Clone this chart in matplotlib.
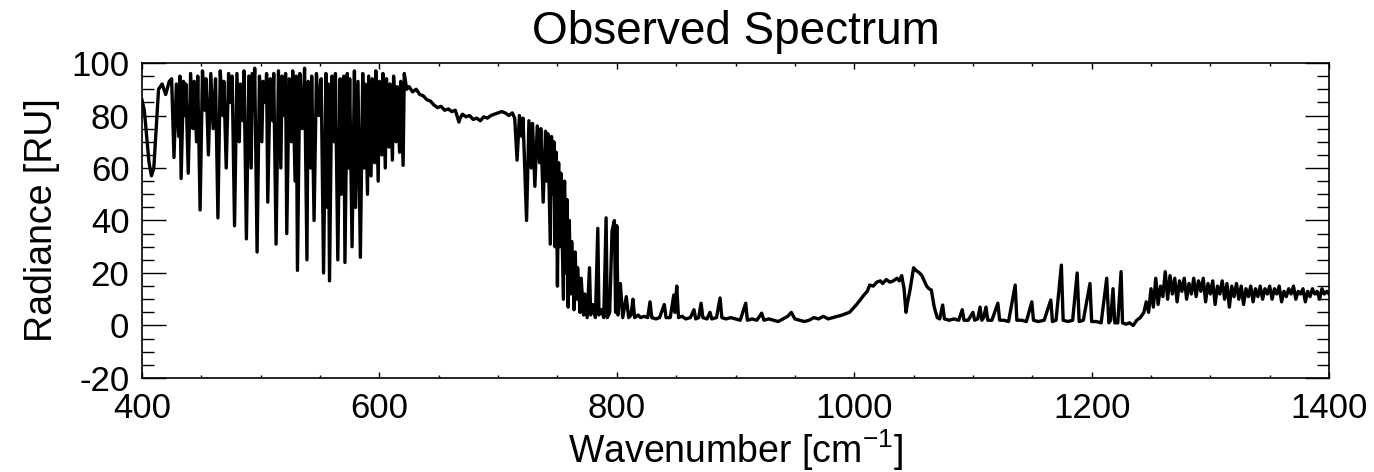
import numpy as np
import matplotlib.pyplot as plt
from matplotlib.ticker import MultipleLocator

# far wing start (400-423 cm-1)
wn_start = [400, 402, 404, 406, 408, 410, 412, 414, 417, 420, 423]
rad_start = [86, 82, 72, 62, 57, 60, 75, 90, 92, 88, 93]

# water vapour rotation lines (tops and bottoms)
wn_h2o = [425, 427, 429, 431, 432, 433, 435, 436, 437, 439, 441, 443, 444, 446, 447, 449,
          451, 453, 454, 456, 458, 460, 462, 464, 466, 468, 469, 471, 473, 474, 476, 478,
          480, 482, 483, 485, 486, 488, 490, 492, 493, 494, 495, 497, 499, 501, 502, 504,
          505, 506, 508, 510, 511, 513, 515, 517, 518, 520, 521, 522, 524, 526, 527, 529,
          530, 531, 533, 535, 537, 539, 540, 542, 543, 545, 547, 549, 551, 553, 555, 556,
          557, 558, 560, 562, 563, 565, 567, 568, 570, 571, 573, 574, 575, 577, 579, 580,
          582, 584, 586, 587, 588, 590, 591, 593, 594, 596, 597, 599, 600, 602, 603, 605,
          606, 608, 609, 611, 612, 614, 615, 617, 618, 620, 621, 623]
rad_h2o = [94, 64, 92, 72, 95, 56, 93, 80, 92, 58, 96, 75, 93, 70, 95, 44,
           97, 82, 94, 65, 96, 75, 94, 41, 97, 80, 93, 60, 96, 85, 95, 38,
           96, 70, 92, 78, 97, 33, 95, 60, 96, 85, 98, 28, 95, 70, 93, 85,
           96, 47, 94, 78, 96, 31, 97, 60, 95, 80, 96, 35, 94, 70, 97, 55,
           95, 21, 96, 75, 98, 25, 93, 60, 95, 40, 96, 80, 94, 20, 96, 45,
           92, 17, 95, 70, 96, 25, 94, 50, 95, 24, 96, 60, 94, 30, 97, 45,
           93, 26, 96, 60, 92, 50, 95, 57, 94, 62, 97, 55, 93, 65, 96, 60,
           94, 68, 92, 63, 95, 70, 91, 66, 93, 61, 96, 90]

# smooth part before the CO2 band edge
wn_mid = [625, 628, 631, 634, 637, 640, 643, 646, 649, 652, 655, 658, 661, 664, 666, 667,
          668, 670, 673, 676, 679, 682, 685, 688, 691, 694, 697, 700, 703, 706, 709, 712, 714]
rad_mid = [91, 89, 90, 88, 87.5, 86, 85.5, 84, 83, 83.5, 82, 82.5, 81.5, 82, 79, 77.5,
           79, 80.5, 79.5, 80, 78.5, 79, 78, 79.5, 79, 80, 80.5, 81, 81.5, 81, 80, 81, 79]

# CO2 band edge
wn_co2 = [716, 718, 720, 721, 724, 726, 728, 729, 731, 733, 735, 736, 738, 740, 741, 742,
          744, 745, 746, 747, 748, 749, 750, 751, 752, 753, 755, 756, 757, 758, 759, 760,
          761, 762, 764, 765, 766, 767, 769, 770, 772, 773, 775, 777, 778, 780, 782, 784,
          785, 787, 789, 791, 792, 794, 796, 798, 799, 800, 801, 803, 805, 808]
rad_co2 = [63, 80, 72, 79, 40, 78, 60, 77, 53, 76, 62, 75, 47, 74, 55, 73,
           31, 72, 50, 70, 30, 66, 15, 62, 30, 58, 10, 55, 20, 48, 7, 40,
           12, 32, 6, 28, 10, 22, 5, 18, 4, 12, 3, 22, 4, 8, 3, 37,
           4, 6, 3, 41, 3, 5, 36, 40, 5, 38, 4, 16, 3, 11]

# atmospheric window
wn_win = [810, 812, 813.6, 815, 818, 820, 823, 826, 828, 829.5, 833, 836, 840, 841.5, 845,
          848, 849, 850.5, 852, 855, 858, 862, 865, 866.5, 869, 871, 872.5, 876, 878.5, 880,
          884, 887, 888.5, 892, 896, 900, 904, 908.6, 910, 914, 918, 922, 924, 928, 932, 936,
          940, 944, 947, 950, 954, 958, 962, 966, 970, 974, 978, 982, 986, 990, 994]
rad_win = [3, 4, 10, 3, 4, 3, 3.5, 3, 9, 3, 2.5, 3, 8, 3, 3,
           11.6, 5, 15, 3, 3.5, 2.5, 3, 6, 2.5, 3, 8.5, 3, 2.5, 5, 2.5,
           3, 10.5, 3, 2.5, 3, 2.5, 2, 8.5, 2, 2.5, 2, 4.7, 2, 2.5, 2, 1.5,
           2.5, 3.5, 5, 2.5, 2, 1.5, 2, 3, 2.5, 3.5, 2.5, 3, 3.5, 4, 4.7]

# ozone band
wn_o3 = [996, 999, 1002, 1005, 1008, 1011, 1013, 1016, 1019, 1022, 1024, 1027, 1030, 1033,
         1036, 1038, 1040, 1042, 1043.6, 1045, 1047, 1049, 1050, 1052, 1055, 1057, 1059, 1061,
         1063, 1065, 1067, 1068, 1070, 1072, 1074.5, 1076]
rad_o3 = [5, 6.5, 8, 9.7, 11.5, 13, 15.4, 15, 16.5, 17, 16, 17.5, 16.5, 17,
          18, 17, 19, 14, 5, 9, 13.5, 19, 22, 21, 20, 19, 17, 15,
          14, 13.5, 8, 6, 3, 2.5, 7.8, 2.5]

# second window with water lines
wn_win2 = [1080, 1084, 1088, 1091, 1092.5, 1096, 1100, 1101.5, 1104, 1106, 1107.5, 1109, 1111,
           1112.5, 1116, 1121, 1122.5, 1126, 1130, 1135.6, 1137, 1141, 1145, 1149.6, 1151, 1155,
           1160, 1165.6, 1167, 1170, 1174.5, 1176, 1180, 1184, 1187.8, 1189.5, 1193, 1198.6,
           1200, 1204, 1208, 1212.7, 1214.5, 1216, 1218, 1219.5, 1222, 1224.8, 1226, 1229, 1232,
           1235, 1238, 1241, 1244]
rad_win2 = [2, 2.5, 2, 6, 2, 2, 5, 2, 2.5, 7, 2, 3, 7,
            2, 2, 8.5, 2, 2, 1.5, 15.4, 2, 2, 1.5, 9, 2, 1.5,
            2, 9.7, 1.5, 2, 23, 2, 1.5, 2, 20, 1.5, 2, 16,
            1.5, 1.5, 1, 18, 1, 2, 14, 1, 1, 20.5, 1, 0.5, 1,
            0, 2, 3, 5]

# water vapour vibration band start
wn_v2 = [1246, 1248, 1250, 1252, 1254, 1256, 1258, 1260, 1262, 1264, 1266, 1268, 1270, 1272,
         1274, 1276, 1278, 1280, 1282, 1284, 1286, 1288, 1290, 1292, 1294, 1296, 1298, 1300,
         1302, 1304, 1306, 1308, 1310, 1312, 1314, 1316, 1318, 1320, 1322, 1324, 1326, 1328,
         1330, 1332, 1334, 1336, 1338, 1340, 1342, 1344, 1346, 1348, 1350, 1352, 1354, 1356,
         1358, 1360, 1362, 1364, 1366, 1368, 1370, 1372, 1374, 1376, 1378, 1380, 1382, 1384,
         1386, 1388, 1390, 1392, 1394, 1396, 1398, 1400]
rad_v2 = [9, 5, 14, 7, 18, 8, 15, 11, 20.5, 10, 19, 12, 18, 9,
          17, 13, 18, 10, 16, 12, 18, 11, 17, 13, 18, 9, 16, 12,
          17, 8, 15, 12, 17, 10, 16, 7, 15, 11, 16, 10, 15, 8,
          14, 11, 15, 9, 14, 11, 15, 10, 14, 12, 15, 10, 14, 12,
          15, 9, 13, 11, 14, 12, 15, 10, 13, 12, 14, 9, 13, 11,
          14, 12, 13, 10, 14, 12, 13, 12]

wn = np.concatenate([wn_start, wn_h2o, wn_mid, wn_co2, wn_win, wn_o3, wn_win2, wn_v2])
rad = np.concatenate([rad_start, rad_h2o, rad_mid, rad_co2, rad_win, rad_o3, rad_win2, rad_v2])

plt.rcParams['font.family'] = ['Liberation Sans', 'DejaVu Sans']
plt.rcParams['mathtext.default'] = 'regular'
plt.rcParams['axes.unicode_minus'] = False

fig = plt.figure(figsize=(13.74, 4.72), dpi=100)
ax = fig.add_axes([0.1033, 0.1992, 0.864, 0.6673])

ax.plot(wn, rad, color='black', linewidth=2.4)

ax.set_xlim(400, 1400)
ax.set_ylim(-20, 100)
ax.xaxis.set_major_locator(MultipleLocator(200))
ax.xaxis.set_minor_locator(MultipleLocator(50))
ax.yaxis.set_major_locator(MultipleLocator(20))
ax.yaxis.set_minor_locator(MultipleLocator(5))

ax.tick_params(axis='x', which='major', direction='in', length=4.5, width=1,
               top=True, labelsize=25, pad=10)
ax.tick_params(axis='x', which='minor', direction='in', length=2.2, width=1, top=True)
ax.tick_params(axis='y', which='major', direction='in', length=17, width=1,
               right=True, labelsize=25, pad=9)
ax.tick_params(axis='y', which='minor', direction='in', length=8.5, width=1, right=True)
for s in ax.spines.values():
    s.set_linewidth(1.2)

ax.set_title('Observed Spectrum', fontsize=33, pad=14)
ax.set_xlabel('Wavenumber [cm$^{-1}$]', fontsize=27, labelpad=2)
ax.set_ylabel('Radiance [RU]', fontsize=27, labelpad=8)

fig.savefig('out.png', dpi=100)
